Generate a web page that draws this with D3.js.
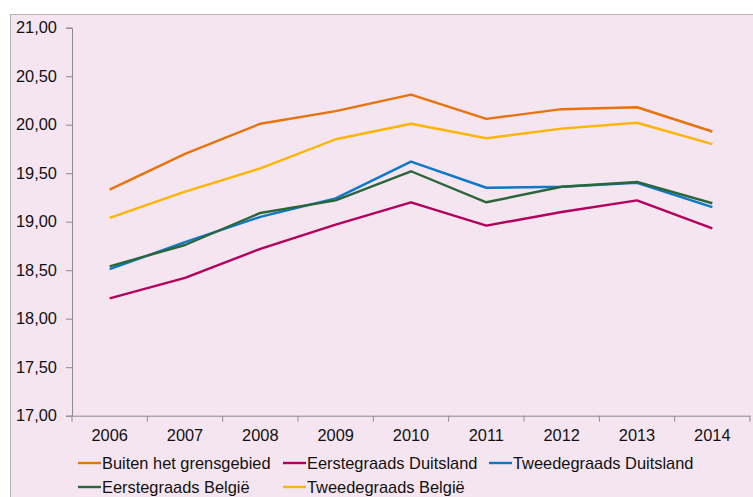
<!DOCTYPE html>
<html>
<head>
<meta charset="utf-8">
<script src="https://cdn.jsdelivr.net/npm/d3@7"></script>
<style>
  body { margin: 0; background: #fff; }
  svg { display: block; font-family: "Liberation Sans", Arial, sans-serif; }
</style>
</head>
<body>
<svg width="753" height="497"></svg>
<script>
var years = ["2006", "2007", "2008", "2009", "2010", "2011", "2012", "2013", "2014"];
var yTicks = [17, 17.5, 18, 18.5, 19, 19.5, 20, 20.5, 21];

var buitenGrens   = [19.33, 19.70, 20.01, 20.14, 20.31, 20.06, 20.16, 20.18, 19.93];
var eersteDuits   = [18.21, 18.42, 18.72, 18.97, 19.20, 18.96, 19.10, 19.22, 18.93];
var tweedeDuits   = [18.51, 18.79, 19.05, 19.24, 19.62, 19.35, 19.36, 19.40, 19.15];
var eersteBelgie  = [18.54, 18.76, 19.09, 19.22, 19.52, 19.20, 19.36, 19.41, 19.19];
var tweedeBelgie  = [19.04, 19.31, 19.55, 19.85, 20.01, 19.86, 19.96, 20.02, 19.80];

var series = [
  { name: "Buiten het grensgebied", values: buitenGrens, color: "#E8720C" },
  { name: "Eerstegraads Duitsland", values: eersteDuits, color: "#B3005E" },
  { name: "Tweedegraads Duitsland", values: tweedeDuits, color: "#0B78C8" },
  { name: "Eerstegraads België", values: eersteBelgie, color: "#2B6638" },
  { name: "Tweedegraads België", values: tweedeBelgie, color: "#FFB400" }
];

var svg = d3.select("svg");
var fmt = function(d) { return d3.format(".2f")(d).replace(".", ","); };
var fontSize = "16.4px";

// chart area background + border
svg.append("rect")
  .attr("x", 10.5).attr("y", 14.5)
  .attr("width", 760).attr("height", 500)
  .attr("fill", "#F5E5F0")
  .attr("stroke", "#B3B3B3")
  .attr("stroke-width", 1);

var x = d3.scaleBand().domain(years).range([72, 750]);
var y = d3.scaleLinear().domain([17, 21]).range([415.7, 27.7]);

var axisColor = "#8C8C8C";

// y axis
var yAxis = svg.append("g")
  .attr("transform", "translate(72,0)")
  .call(d3.axisLeft(y).tickValues(yTicks).tickFormat(fmt).tickSize(6).tickPadding(9));
yAxis.select(".domain").attr("stroke", axisColor);
yAxis.selectAll(".tick line").attr("stroke", axisColor);
yAxis.selectAll("text").attr("fill", "#111").style("font-size", fontSize);

// x axis
var xAxis = svg.append("g")
  .attr("transform", "translate(0,415.7)")
  .call(d3.axisBottom(x).tickSize(0).tickPadding(14));
xAxis.select(".domain").attr("stroke", axisColor);
xAxis.selectAll("text").attr("fill", "#111").style("font-size", fontSize);
// tick marks on band boundaries
xAxis.selectAll(".bound")
  .data(years.concat(["end"]))
  .enter().append("line")
  .attr("class", "bound")
  .attr("x1", function(d, i) { return i < years.length ? x(d) : x.range()[1]; })
  .attr("x2", function(d, i) { return i < years.length ? x(d) : x.range()[1]; })
  .attr("y1", 0).attr("y2", 6)
  .attr("stroke", axisColor);

// lines
var line = d3.line()
  .x(function(d, i) { return x(years[i]) + x.bandwidth() / 2; })
  .y(function(d) { return y(d); });

svg.selectAll(".series")
  .data(series)
  .enter().append("path")
  .attr("class", "series")
  .attr("d", function(d) { return line(d.values); })
  .attr("fill", "none")
  .attr("stroke", function(d) { return d.color; })
  .attr("stroke-width", 2.4)
  .attr("stroke-linejoin", "round");

// legend
var legendPos = [[78, 463], [283, 463], [489, 463], [78, 487], [283, 487]];
var legend = svg.selectAll(".legend")
  .data(series)
  .enter().append("g")
  .attr("class", "legend")
  .attr("transform", function(d, i) { return "translate(" + legendPos[i] + ")"; });

legend.append("line")
  .attr("x1", 0).attr("x2", 23)
  .attr("stroke", function(d) { return d.color; })
  .attr("stroke-width", 2.4);

legend.append("text")
  .attr("x", 24).attr("dy", "0.35em")
  .style("font-size", fontSize)
  .attr("fill", "#111")
  .text(function(d) { return d.name; });
</script>
</body>
</html>
